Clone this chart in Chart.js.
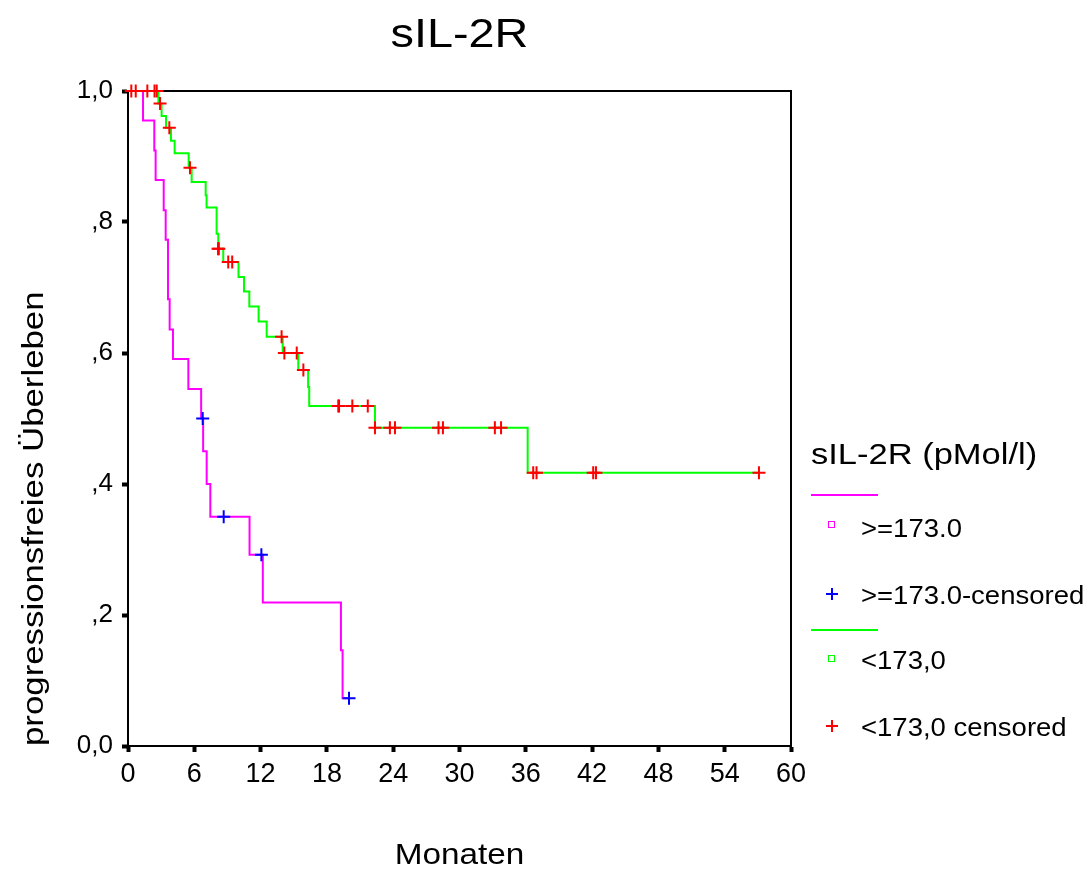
<!DOCTYPE html>
<html>
<head>
<meta charset="utf-8">
<script src="https://cdn.jsdelivr.net/npm/chart.js@4.4.1/dist/chart.umd.min.js"></script>
<style>
  html, body { margin: 0; padding: 0; background: #fff; }
  #wrap { position: relative; width: 1092px; height: 872px; }
  #chart { position: absolute; left: 0; top: 0; }
  .lg { position: absolute; font-family: "Liberation Sans", Arial, sans-serif; color: #000; white-space: nowrap; transform-origin: left center; }
  .lgline { position: absolute; height: 2px; width: 67px; left: 811px; }
  .sq { position: absolute; width: 5px; height: 5px; border: 1.5px solid; }
  .plus { position: absolute; width: 12px; height: 12px; }
  .plus:before, .plus:after { content: ""; position: absolute; background: currentColor; }
  .plus:before { left: 5px; top: 0; width: 2px; height: 12px; }
  .plus:after { left: 0; top: 5px; width: 12px; height: 2px; }
</style>
</head>
<body>
<div id="wrap">
  <canvas id="chart" width="1092" height="872"></canvas>
  <div class="lg" style="left:811px; top:437px; font-size:30px; transform:scaleX(1.15);">sIL-2R (pMol/l)</div>
  <div class="lgline" style="top:494px; background:#ff00ff;"></div>
  <div class="sq" style="left:828px; top:521px; border-color:#ff00ff;"></div>
  <div class="lg" style="left:861px; top:514px; font-size:25px; transform:scaleX(1.1);">&gt;=173.0</div>
  <div class="plus" style="left:826px; top:588px; color:#0000ff;"></div>
  <div class="lg" style="left:861px; top:581px; font-size:25px; transform:scaleX(1.1);">&gt;=173.0-censored</div>
  <div class="lgline" style="top:629px; background:#00ff00;"></div>
  <div class="sq" style="left:828px; top:655px; border-color:#00ff00;"></div>
  <div class="lg" style="left:861px; top:646px; font-size:25px; transform:scaleX(1.1);">&lt;173,0</div>
  <div class="plus" style="left:826px; top:720px; color:#ff0000;"></div>
  <div class="lg" style="left:861px; top:713px; font-size:25px; transform:scaleX(1.1);">&lt;173,0 censored</div>
</div>
<script>
// ---- data (months, survival) ----
const xTickLabels = ['0','6','12','18','24','30','36','42','48','54','60'];
const yTickLabels = ['0,0', ',2', ',4', ',6', ',8', '1,0'];

// group >=173.0 (step curve)
const highTimes = [0, 1.36, 2.38, 2.5, 3.23, 3.41, 3.62, 3.77, 4.07, 5.46, 6.62, 6.8, 7.12, 7.45, 11.0, 12.2, 19.27, 19.42, 20.0];
const highSurv  = [1, 0.955, 0.909, 0.864, 0.818, 0.773, 0.682, 0.636, 0.591, 0.545, 0.5, 0.45, 0.4, 0.35, 0.292, 0.219, 0.146, 0.073, 0.073];
// group >=173.0 censored
const highCensTimes = [6.76, 8.66, 12.07, 20.0];
const highCensSurv  = [0.5, 0.35, 0.292, 0.073];

// group <173,0 (step curve)
const lowTimes = [0, 2.75, 3.04, 3.44, 3.89, 4.22, 5.49, 5.76, 7.03, 7.11, 8.02, 8.17, 8.62, 10.0, 10.5, 10.98, 11.82, 12.55, 14.0, 15.41, 16.3, 16.4, 22.35, 36.17, 57.1];
const lowSurv  = [1, 0.981, 0.962, 0.944, 0.924, 0.905, 0.883, 0.861, 0.841, 0.822, 0.782, 0.759, 0.739, 0.716, 0.694, 0.671, 0.648, 0.625, 0.6, 0.574, 0.548, 0.519, 0.486, 0.417, 0.417];
// group <173,0 censored
const lowCensTimes = [0.3, 0.7, 1.75, 2.4, 2.6, 2.9, 3.74, 5.61, 8.15, 8.22, 9.07, 9.43, 13.9, 14.15, 15.27, 15.87, 19.03, 19.1, 20.3, 21.7, 22.35, 23.7, 24.16, 28.1, 28.5, 33.2, 33.76, 36.67, 36.97, 42.1, 42.35, 57.1];
const lowCensSurv  = [1, 1, 1, 1, 1, 0.981, 0.944, 0.883, 0.759, 0.759, 0.739, 0.739, 0.625, 0.6, 0.6, 0.574, 0.519, 0.519, 0.519, 0.519, 0.486, 0.486, 0.486, 0.486, 0.486, 0.486, 0.486, 0.417, 0.417, 0.417, 0.417, 0.417];

const toPts = (xs, ys) => xs.map((x, i) => ({ x: x, y: ys[i] }));
const FONT = "'Liberation Sans', Arial, sans-serif";

const TITLE = 'sIL-2R';
const X_TITLE = 'Monaten';
const Y_TITLE = 'progressionsfreies Überleben';
// horizontal stretch of the heading texts (the original output renders them slightly wide)
const stretch = { [TITLE]: 1.17, [X_TITLE]: 1.11, [Y_TITLE]: 1.16 };

const stretchTextPlugin = {
  id: 'stretchText',
  beforeInit(chart) {
    const ctx = chart.ctx;
    const orig = ctx.fillText.bind(ctx);
    ctx.fillText = function (t, x, y, maxW) {
      const k = stretch[t];
      if (!k) return orig(t, x, y, maxW);
      ctx.save();
      ctx.translate(x, y);
      ctx.scale(k, 1);
      orig(t, 0, 0);
      ctx.restore();
    };
  }
};

const framePlugin = {
  id: 'frame',
  beforeDatasetsDraw(chart) {
    const { ctx, chartArea: a } = chart;
    ctx.save();
    ctx.strokeStyle = '#000';
    ctx.lineWidth = 2;
    ctx.strokeRect(a.left, a.top, a.right - a.left, a.bottom - a.top);
    ctx.restore();
  }
};

new Chart(document.getElementById('chart'), {
  type: 'line',
  data: {
    datasets: [
      { label: '>=173.0-censored', type: 'scatter', data: toPts(highCensTimes, highCensSurv),
        showLine: false, pointStyle: 'cross', pointRadius: 6.5, pointBorderWidth: 2,
        borderColor: '#0000ff', backgroundColor: '#0000ff', order: 0, clip: false },
      { label: '<173,0 censored', type: 'scatter', data: toPts(lowCensTimes, lowCensSurv),
        showLine: false, pointStyle: 'cross', pointRadius: 6.5, pointBorderWidth: 2,
        borderColor: '#ff0000', backgroundColor: '#ff0000', order: 1, clip: false },
      { label: '>=173.0', data: toPts(highTimes, highSurv), stepped: true,
        borderColor: '#ff00ff', borderWidth: 2, pointRadius: 0, fill: false, order: 3, clip: false },
      { label: '<173,0', data: toPts(lowTimes, lowSurv), stepped: true,
        borderColor: '#00ff00', borderWidth: 2, pointRadius: 0, fill: false, order: 2, clip: false }
    ]
  },
  options: {
    responsive: false,
    animation: false,
    events: [],
    layout: { padding: { left: 0, right: 301, top: 0, bottom: 0 } },
    plugins: {
      legend: { display: false },
      tooltip: { enabled: false },
      title: {
        display: true, text: TITLE, fullSize: false, color: '#000',
        font: { family: FONT, size: 40, weight: 'normal', lineHeight: 1.2 },
        padding: { top: 12, bottom: 31 }
      }
    },
    scales: {
      x: {
        type: 'linear', min: 0, max: 60,
        afterFit: (s) => { s.height = 126; },
        border: { display: true, color: '#000', width: 2 },
        grid: { display: true, drawOnChartArea: false, drawTicks: true, tickLength: 6, tickWidth: 4, tickColor: '#000' },
        ticks: { stepSize: 6, color: '#000', padding: 6, maxRotation: 0, autoSkip: false,
                 font: { family: FONT, size: 27 },
                 callback: (v, i) => xTickLabels[i] },
        title: { display: true, text: X_TITLE, color: '#000',
                 font: { family: FONT, size: 30, lineHeight: 1 }, padding: { top: 0, bottom: 1 } }
      },
      y: {
        type: 'linear', min: 0, max: 1,
        afterFit: (s) => { s.width = 128; },
        border: { display: true, color: '#000', width: 2 },
        grid: { display: true, drawOnChartArea: false, drawTicks: true, tickLength: 6, tickWidth: 4, tickColor: '#000' },
        ticks: { stepSize: 0.2, color: '#000', padding: 9, autoSkip: false,
                 font: { family: FONT, size: 26 },
                 callback: (v, i) => yTickLabels[i] },
        title: { display: true, text: Y_TITLE, color: '#000', align: 'start',
                 font: { family: FONT, size: 30, lineHeight: 1.2 }, padding: { top: 17, bottom: 0 } }
      }
    }
  },
  plugins: [stretchTextPlugin, framePlugin]
});
</script>
</body>
</html>
